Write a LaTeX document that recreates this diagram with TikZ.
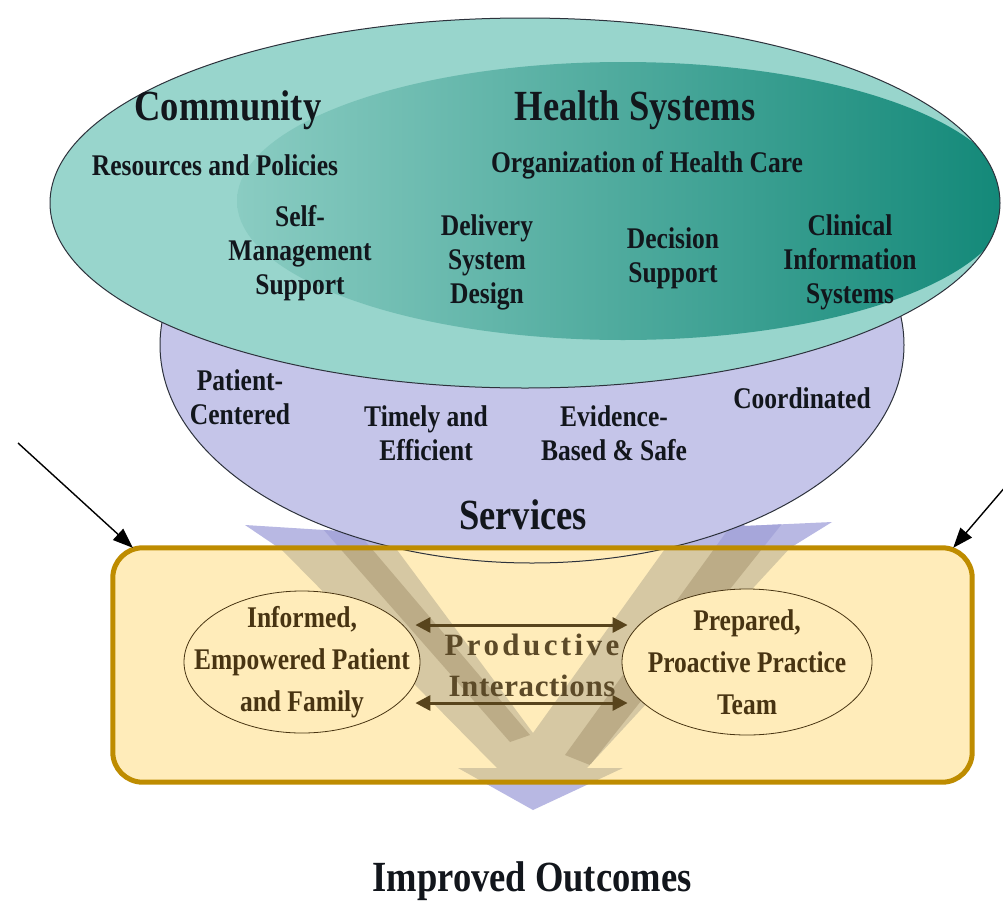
\documentclass[tikz,border=0pt]{standalone}
\usepackage{fontspec}
\setmainfont{Liberation Serif}[FakeStretch=0.85]
\newfontfamily\prodfont{Liberation Serif}
\usetikzlibrary{arrows.meta,shapes.geometric,positioning}
\definecolor{tealout}{RGB}{152,213,204}
\definecolor{tealin}{RGB}{138,204,194}
\definecolor{tealmid}{RGB}{100,186,173}
\definecolor{tealdeep}{RGB}{18,136,120}
\definecolor{lavender}{RGB}{197,197,233}
\definecolor{vlav}{RGB}{184,184,227}
\definecolor{lavdark}{RGB}{166,166,218}
\definecolor{boxfill}{RGB}{255,236,186}
\definecolor{boxedge}{RGB}{190,140,0}
\definecolor{tanlight}{RGB}{214,200,163}
\definecolor{tandark}{RGB}{188,172,135}
\definecolor{inkbrown}{RGB}{72,52,18}
\definecolor{arrowbrown}{RGB}{88,68,28}
\definecolor{prodbrown}{RGB}{92,74,40}
\definecolor{rim}{RGB}{45,50,60}
\definecolor{ink}{RGB}{18,22,28}
\begin{document}
\begin{tikzpicture}[x=1pt, y=-1pt,
    every node/.style={font=\bfseries, text=ink, align=center},
    head/.style={font=\fontsize{43}{48}\selectfont\bfseries},
    item/.style={font=\fontsize{30}{34}\selectfont\bfseries},
    partner/.style={ellipse, draw=inkbrown, line width=0.8pt, fill=boxfill, inner sep=0pt},
    partnertext/.style={text=inkbrown, font=\fontsize{30}{42}\selectfont\bfseries},
    twoway/.style={{Triangle[length=15pt,width=15pt]}-{Triangle[length=15pt,width=15pt]}, line width=3pt, draw=arrowbrown},
    pointer/.style={-{Triangle[length=20pt,width=15pt]}, line width=1.4pt, draw=black}]
    \fill[white] (0,0) rectangle (1003,902);
    \useasboundingbox (0,0) rectangle (1003,902);
    \def\vpath{(245,525) -- (340,531) -- (360,500) -- (533,733) -- (700,500) -- (745,526) -- (832,522) -- (790,548) -- (587,768) -- (623,768) -- (533,810) -- (458,768) -- (497,768) -- (282,550) -- cycle}
    \def\vstripes{(315,520) -- (343,515) -- (530,735) -- (510,742) -- cycle (735,520) -- (785,520) -- (590,765) -- (565,755) -- cycle}
    %Chevron
    \fill[vlav] \vpath;
    \begin{scope}
      \clip \vpath;
      \fill[lavdark] \vstripes;
    \end{scope}
    %Services
    \filldraw[fill=lavender, draw=rim, line width=1pt] (532,345) ellipse (372 and 218);
    %Community and health systems
    \fill[tealout] (525,203) ellipse (475 and 185);
    \begin{scope}
      \clip (525,203) ellipse (475 and 185);
      \clip (623,201) ellipse (386 and 139);
      \shade[left color=tealin, middle color=tealmid, right color=tealdeep] (237,40) rectangle (1010,360);
    \end{scope}
    \draw[rim, line width=1pt] (525,203) ellipse (475 and 185);
    %Headings
    \node[head] (community) at (228,110) {Community};
    \node[head] (health) at (635,110) {Health Systems};
    \node[item] (resources) at (215,165) {Resources and Policies};
    \node[item] (organization) at (647,165) {Organization of Health Care};
    %Components
    \foreach \n/\x/\y/\t in {selfmgmt/300/253/{Self-\\Management\\Support},
        delivery/487/262/{Delivery\\System\\Design},
        decision/673/258/{Decision\\Support},
        clinical/850/262/{Clinical\\Information\\Systems}}
      \node[item] (\n) at (\x,\y) {\t};
    %Service qualities
    \foreach \n/\x/\y/\t in {patient/240/397/{Patient-\\Centered},
        timely/426/433/{Timely and\\Efficient},
        evidence/614/433/{Evidence-\\Based \& Safe},
        coordinated/802/398/{Coordinated}}
      \node[item] (\n) at (\x,\y) {\t};
    \node[head] (services) at (523,515) {Services};
    %Interaction box
    \node[fill=boxfill, rounded corners=30pt, minimum width=859pt, minimum height=234pt, inner sep=0pt] (box) at (542.5,665) {};
    \begin{scope}
      \clip[rounded corners=30pt] (box.south west) rectangle (box.north east);
      \fill[tanlight] \vpath;
      \begin{scope}
        \clip \vpath;
        \fill[tandark] \vstripes;
      \end{scope}
      \filldraw[fill=boxfill, draw=rim, line width=1pt] (532,345) ellipse (372 and 218);
    \end{scope}
    \draw[boxedge, line width=5pt, rounded corners=30pt] (box.south west) rectangle (box.north east);
    %Partners
    \node[partner, minimum width=236pt, minimum height=142pt] (pat) at (302,662) {};
    \node[partnertext] (pattext) at (pat) {Informed,\\Empowered Patient\\and Family};
    \node[partner, minimum width=250pt, minimum height=146pt] (team) at (747,662) {};
    \node[partnertext] (teamtext) at (team) {Prepared,\\Proactive Practice\\Team};
    \draw[twoway] ([shift={(-5pt,37pt)}]pat.east) -- ([shift={(6pt,37pt)}]team.west);
    \draw[twoway] ([shift={(-5pt,-41pt)}]pat.east) -- ([shift={(6pt,-41pt)}]team.west);
    \node[text=prodbrown, font=\prodfont\fontsize{31}{41}\selectfont\bfseries] (prod) at (532,665)
      {{\addfontfeatures{LetterSpace=11}Productive}\\{\addfontfeatures{LetterSpace=2}Interactions}};
    %Pointers
    \coordinate (lfrom) at (18,443);
    \coordinate (rfrom) at (1006,486);
    \draw[pointer] (lfrom) -- ([xshift=20pt]box.north west);
    \draw[pointer] (rfrom) -- ([xshift=-19pt]box.north east);
    \node[head] (outcomes) at (532,881) {Improved Outcomes};
\end{tikzpicture}
\end{document}
